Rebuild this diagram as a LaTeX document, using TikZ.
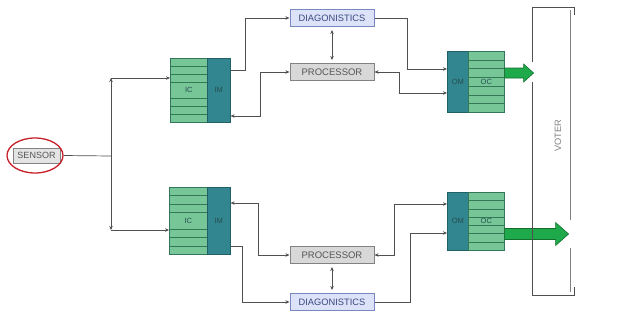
\documentclass[tikz,border=0pt]{standalone}
\usepackage{fontspec}
\setmainfont{Liberation Sans}
\usetikzlibrary{arrows.meta,calc,shapes.geometric}
\definecolor{icgreen}{RGB}{118,198,152}
\definecolor{icborder}{RGB}{52,118,90}
\definecolor{stripec}{RGB}{52,120,88}
\definecolor{imteal}{RGB}{50,134,144}
\definecolor{imborder}{RGB}{34,96,104}
\definecolor{blocktext}{RGB}{40,78,80}
\definecolor{diagfill}{RGB}{220,227,248}
\definecolor{diagborder}{RGB}{120,136,190}
\definecolor{diagtext}{RGB}{58,72,128}
\definecolor{procfill}{RGB}{216,216,216}
\definecolor{procborder}{RGB}{130,130,130}
\definecolor{proctext}{RGB}{85,85,85}
\definecolor{linec}{RGB}{80,80,80}
\definecolor{garrowfill}{RGB}{30,170,75}
\definecolor{garrowdraw}{RGB}{20,110,45}
\definecolor{sensorred}{RGB}{200,32,42}
\begin{document}
\begin{tikzpicture}[x=1pt,y=-1pt,
  stripes/.style={path picture={\foreach \k in {#1}{\draw[stripec,line width=0.6pt] ($(path picture bounding box.north west)!\k!(path picture bounding box.south west)$) -- ($(path picture bounding box.north east)!\k!(path picture bounding box.south east)$);}}},
  icbox/.style={draw=icborder, fill=icgreen, line width=0.6pt, inner sep=0pt, anchor=north west, text=blocktext, font=\fontsize{7.5}{9}\selectfont},
  imbox/.style={draw=imborder, fill=imteal, line width=0.6pt, inner sep=0pt, anchor=north west, text=blocktext, font=\fontsize{7.5}{9}\selectfont},
  diagbox/.style={draw=diagborder, fill=diagfill, line width=1pt, minimum width=84pt, minimum height=17pt, inner sep=0pt, text=diagtext, font=\fontsize{9.3}{11}\selectfont},
  procbox/.style={draw=procborder, fill=procfill, line width=1pt, minimum width=84pt, minimum height=17pt, inner sep=0pt, text=proctext, font=\fontsize{9.5}{11}\selectfont},
  conn/.style={draw=linec, line width=0.7pt},
  arr/.style={conn, -{Stealth[length=4pt,width=3.5pt]}},
  darr/.style={conn, {Stealth[length=4pt,width=3.5pt]}-{Stealth[length=4pt,width=3.5pt]}},
  garrow/.style={fill=garrowfill, draw=garrowdraw, line width=0.6pt, line join=miter},
  voterline/.style={draw=linec, line width=0.8pt}
]
\useasboundingbox (0,0) rectangle (629,322);

% sensor
\node[draw=procborder, fill=procfill!70, line width=0.6pt, minimum width=47pt, minimum height=15pt, inner sep=0pt, text=proctext, font=\fontsize{9}{11}\selectfont] (sensor) at (36.5,155.5) {SENSOR};
\node[ellipse, draw=sensorred, line width=1.3pt, minimum width=56pt, minimum height=35pt, inner sep=0pt] (sensorring) at (35,155.5) {};

% blocks top
\node[icbox, stripes={0.125,0.25,0.375,0.625,0.75,0.875}, minimum width=37pt, minimum height=64pt] (ic1) at (170,58) {IC};
\node[imbox, minimum width=23pt, minimum height=64pt] (im1) at (207,58) {IM};
\node[imbox, minimum width=21pt, minimum height=61pt] (om1) at (447,51) {OM};
\node[icbox, stripes={0.1429,0.2857,0.4286,0.5714,0.7143,0.8571}, minimum width=36pt, minimum height=61pt] (oc1) at (468,51) {OC};

% blocks bottom
\node[icbox, stripes={0.125,0.25,0.375,0.625,0.75,0.875}, minimum width=38pt, minimum height=67pt] (ic2) at (169,187) {IC};
\node[imbox, minimum width=23pt, minimum height=67pt] (im2) at (207,187) {IM};
\node[imbox, minimum width=21pt, minimum height=58pt] (om2) at (447,192) {OM};
\node[icbox, stripes={0.1429,0.2857,0.4286,0.5714,0.7143,0.8571}, minimum width=36pt, minimum height=58pt] (oc2) at (468,192) {OC};

% diagnostics and processors
\node[diagbox] (diag1) at (332,18) {DIAGONISTICS};
\node[procbox] (proc1) at (332,72) {PROCESSOR};
\node[procbox] (proc2) at (332,255) {PROCESSOR};
\node[diagbox] (diag2) at (332,302) {DIAGONISTICS};

% sensor distribution
\coordinate (split) at (111,156);
\coordinate (up) at (111,78);
\coordinate (dn) at (111,230);
\draw[conn] (sensorring.east) -- (split);
\draw[arr] (split) -- (up);
\draw[arr] (up) -- (up -| ic1.west);
\draw[arr] (split) -- (dn);
\draw[arr] (dn) -- (dn -| ic2.west);

% top channel
\draw[arr] (im1.east |- 0,70) -- (245,70) |- (diag1.west);
\draw[darr] (im1.east |- 0,116) -- (260,116) |- (proc1.west);
\draw[darr, shorten <=3pt, shorten >=3pt] (diag1.south) -- (proc1.north);
\draw[arr] (diag1.east) -- (407,18) |- (om1.west |- 0,69);
\draw[darr] (proc1.east) -- (399,72) |- (om1.west |- 0,93);

% bottom channel
\draw[darr] (im2.east |- 0,203) -- (258,203) |- (proc2.west);
\draw[arr] (im2.east |- 0,246) -- (242,246) |- (diag2.west);
\draw[darr, shorten <=3pt, shorten >=3pt] (proc2.south) -- (diag2.north);
\draw[darr] (proc2.east) -- (394,255) |- (om2.west |- 0,204);
\draw[arr] (diag2.east) -- (410,302) |- (om2.west |- 0,233);

% green output arrows
\coordinate (g1) at (oc1.east |- 0,73);
\draw[garrow] (g1) ++(0,-5) -- ++(19,0) -- ++(0,-4) -- ++(10,9) -- ++(-10,9) -- ++(0,-4) -- ++(-19,0) -- cycle;
\coordinate (g2) at (oc2.east |- 0,234);
\draw[garrow] (g2) ++(0,-5.5) -- ++(51,0) -- ++(0,-6) -- ++(13,11.5) -- ++(-13,11.5) -- ++(0,-6) -- ++(-51,0) -- cycle;

% voter
\draw[voterline] (532,62) -- (532,7) -- (574,7) -- (574,15);
\draw[voterline] (532,82) -- (532,295) -- (574,295) -- (574,287);
\draw[voterline, draw=gray] (570,10) -- (570,220);
\draw[voterline, draw=gray] (570,248) -- (570,292);
\node[rotate=90, text=gray, font=\fontsize{9.2}{11}\selectfont] (voter) at (558,136) {VOTER};
\end{tikzpicture}
\end{document}
